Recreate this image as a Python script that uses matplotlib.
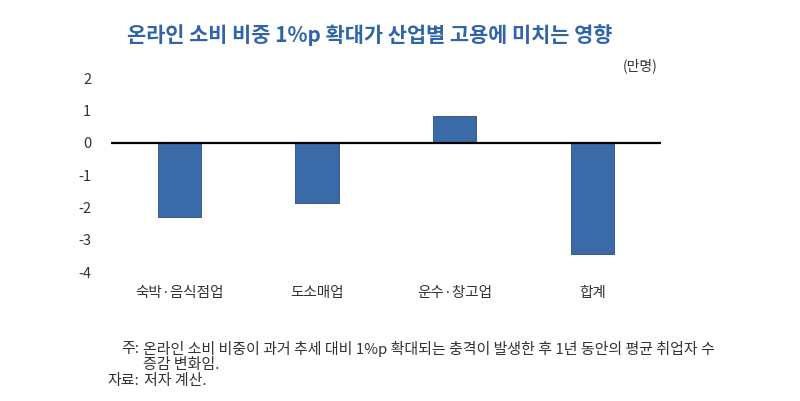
import matplotlib
matplotlib.use("Agg")
import matplotlib.pyplot as plt

plt.rcParams['font.family'] = ['Noto Sans CJK KR', 'DejaVu Sans']

categories = ['숙박·음식점업', '도소매업', '운수·창고업', '합계']
values = [-2.29, -1.87, 0.83, -3.43]
yticks = [2, 1, 0, -1, -2, -3, -4]
title = '온라인 소비 비중 1%p 확대가 산업별 고용에 미치는 영향'
unit = '(만명)'
note_head = '주:'
note1 = '온라인 소비 비중이 과거 추세 대비 1%p 확대되는 충격이 발생한 후 1년 동안의 평균 취업자 수'
note2 = '증감 변화임.'
source_head = '자료:'
source = '저자 계산.'

bar_color = '#3A6AA8'
title_color = '#2F65A6'
text_color = '#333333'

W, H = 800, 401
fig = plt.figure(figsize=(8.0, 4.01), dpi=100)
ax = fig.add_axes([110.7 / W, 1 - 272.3 / H, 550.3 / W, (272.3 - 78.2) / H])

x = list(range(len(categories)))
ax.bar(x, values, width=0.315, color=bar_color, edgecolor='#2B4E7E', linewidth=0.6, zorder=2)
ax.axhline(0, color='black', linewidth=1.6, zorder=3)

ax.set_xlim(-0.5, len(categories) - 0.5)
ax.set_ylim(-4, 2)
ax.set_yticks(yticks)
ax.set_yticklabels([str(t) for t in yticks], fontsize=10.5, color=text_color)
ax.tick_params(axis='y', length=0, pad=14)
ax.set_xticks(x)
ax.set_xticklabels(categories, fontsize=10.5, color=text_color)
ax.tick_params(axis='x', length=0, pad=10)
for s in ax.spines.values():
    s.set_visible(False)

fig.text(127 / W, 1 - 35 / H, title, fontsize=15, fontweight='bold', color=title_color,
         ha='left', va='center')
fig.text(658 / W, 1 - 66 / H, unit, fontsize=10, color=text_color, ha='right', va='center')

fs = 10.8
fig.text(121.7 / W, 1 - 349 / H, note_head, fontsize=fs, color=text_color, ha='left', va='center')
fig.text(143 / W, 1 - 349 / H, note1, fontsize=fs, color=text_color, ha='left', va='center')
fig.text(143 / W, 1 - 365 / H, note2, fontsize=fs, color=text_color, ha='left', va='center')
fig.text(107 / W, 1 - 381 / H, source_head, fontsize=fs, color=text_color, ha='left', va='center')
fig.text(144 / W, 1 - 381 / H, source, fontsize=fs, color=text_color, ha='left', va='center')

fig.savefig('out.png', dpi=100, facecolor='white')
